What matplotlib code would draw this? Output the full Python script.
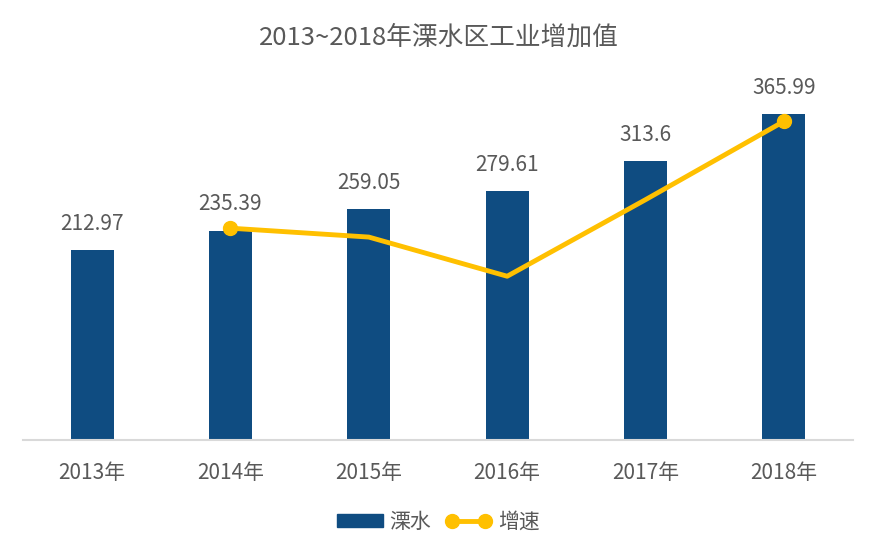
import matplotlib
matplotlib.use("Agg")
import matplotlib.pyplot as plt
import numpy as np

plt.rcParams['font.family'] = ['Noto Sans CJK SC', 'DejaVu Sans']

years = ['2013年', '2014年', '2015年', '2016年', '2017年', '2018年']
values = [212.97, 235.39, 259.05, 279.61, 313.6, 365.99]
value_labels = ['212.97', '235.39', '259.05', '279.61', '313.6', '365.99']
# growth rate (secondary, hidden axis); 2013 has no value
growth = [np.nan, 11.9, 11.4, 9.2, 13.5, 17.9]

BAR = '#0F4C81'
LINE = '#FFC000'
TXT = '#595959'

fig = plt.figure(figsize=(8.77, 5.57), dpi=100)
ax = fig.add_axes([23/877, (557-440)/557, (853-23)/877, (440-84)/557])
x = np.arange(len(years))
ax.bar(x, values, width=0.31, color=BAR, label='溧水', zorder=2)
ax.set_ylim(0, 400)
ax.set_xlim(-0.5, 5.5)
for s in ['top', 'right', 'left']:
    ax.spines[s].set_visible(False)
ax.spines['bottom'].set_color('#D9D9D9')
ax.spines['bottom'].set_linewidth(1.5)
ax.set_yticks([])
ax.set_xticks(x)
ax.set_xticklabels(years, fontsize=15, color=TXT)
ax.tick_params(axis='x', length=0, pad=16)
for xi, v, lab in zip(x, values, value_labels):
    ax.annotate(lab, (xi, v), xytext=(0, 11), textcoords='offset points',
                ha='center', va='bottom', fontsize=15, color=TXT)

ax2 = ax.twinx()
ax2.set_ylim(0, 20)
ax2.axis('off')
g = np.array(growth)
ax2.plot(x, g, color=LINE, lw=3.5, zorder=3, solid_capstyle='round')
valid = np.where(~np.isnan(g))[0]
ends = [valid[0], valid[-1]]
ax2.plot(x[ends], g[ends], 'o', color=LINE, ms=10, zorder=4)

fig.suptitle('2013~2018年溧水区工业增加值', x=0.5, y=1-38/557, va='center',
             fontsize=18.5, color=TXT)

from matplotlib.lines import Line2D
from matplotlib.patches import Patch
handles = [Patch(color=BAR, label='溧水'),
           Line2D([0], [0], color=LINE, lw=3.5, marker='o', ms=10, label='增速')]
fig.legend(handles=handles, loc='center', bbox_to_anchor=(0.5, 1-522/557),
           ncol=2, frameon=False, fontsize=15, labelcolor=TXT,
           handlelength=2.2, handleheight=0.55, columnspacing=0.7,
           handletextpad=0.3, numpoints=2)

fig.savefig('out.png', dpi=100)
